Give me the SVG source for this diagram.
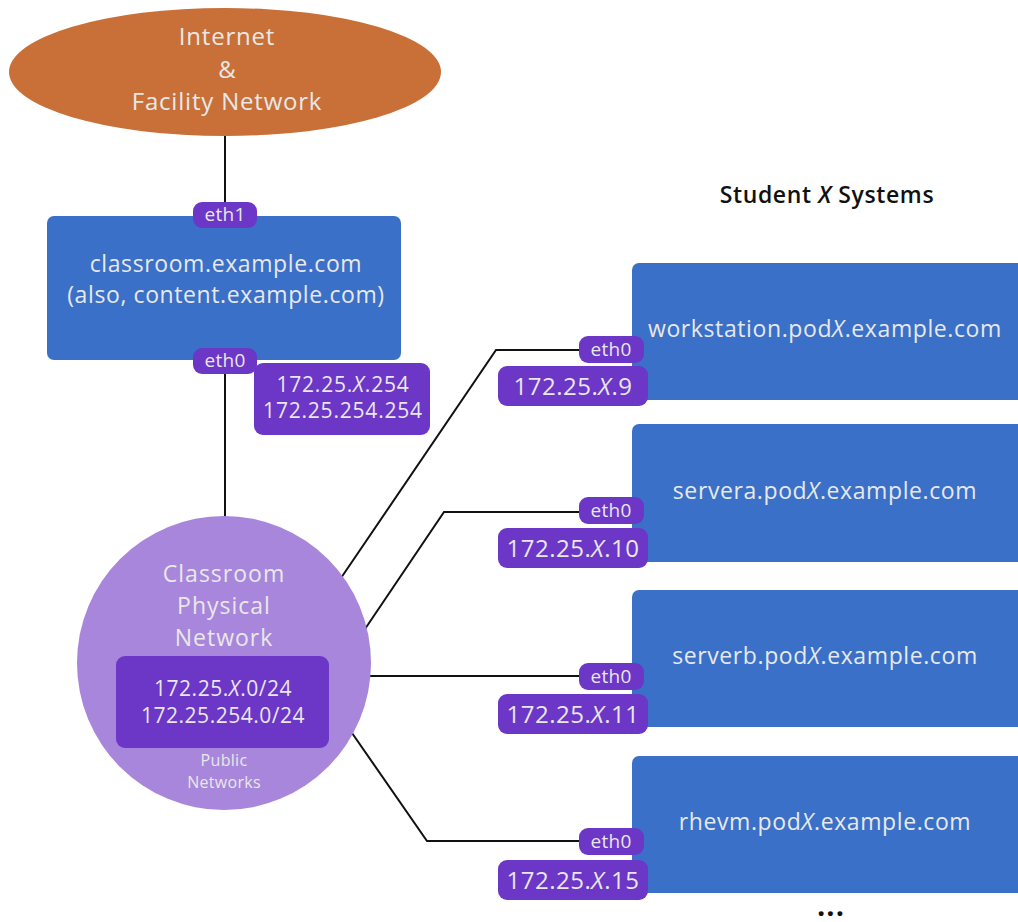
<svg xmlns="http://www.w3.org/2000/svg" width="1018" height="922" viewBox="0 0 1018 922">
  <style>
    text { font-family: "Open Sans", "Liberation Sans", sans-serif; fill: #E8E8E8; text-anchor: middle; }
    .host { fill: #3A70C8; }
    .pill { fill: #6C36C7; }
    .wire { fill: none; stroke: #111; stroke-width: 2; }
    .t22 { font-size: 23px; letter-spacing: 0.6px; }
    .eth { font-size: 19px; letter-spacing: 0.3px; }
    .ip { font-size: 24px; letter-spacing: 0.5px; }
    .it { font-style: italic; }
  </style>

  <!-- connectors -->
  <g id="connectors">
    <line class="wire" x1="225" y1="135" x2="225" y2="210"/>
    <line class="wire" x1="225" y1="370" x2="225" y2="520"/>
    <polyline class="wire" points="341,578 496,350 582,350"/>
    <polyline class="wire" points="365,629 444,512 582,512"/>
    <polyline class="wire" points="369,676 582,676"/>
    <polyline class="wire" points="352,733 427,841 582,841"/>
  </g>

  <!-- upstream network -->
  <g id="internet">
    <ellipse cx="225" cy="72" rx="216" ry="64" fill="#C87038"/>
    <text x="227" y="45" font-size="24" letter-spacing="0.8">Internet</text>
    <text x="227" y="78" font-size="24">&amp;</text>
    <text x="227" y="110" font-size="24" letter-spacing="0.8">Facility Network</text>
  </g>

  <!-- classroom server -->
  <g id="classroom">
    <rect class="host" x="47" y="216" width="354" height="144" rx="7"/>
    <text class="t22" x="226" y="272">classroom.example.com</text>
    <text class="t22" x="226" y="303">(also, content.example.com)</text>
    <rect class="pill" x="193" y="202" width="64" height="26" rx="9"/>
    <text class="eth" x="225" y="221">eth1</text>
    <rect class="pill" x="193" y="348" width="64" height="26" rx="9"/>
    <text class="eth" x="225" y="367">eth0</text>
    <rect class="pill" x="254" y="363" width="176" height="72" rx="9"/>
    <text x="343" y="392" font-size="21" letter-spacing="0.8">172.25.<tspan class="it">X</tspan>.254</text>
    <text x="343" y="418" font-size="21" letter-spacing="0.8">172.25.254.254</text>
  </g>

  <!-- classroom physical network -->
  <g id="physical-network">
    <circle cx="224" cy="663" r="147" fill="#A886DC"/>
    <text x="224" y="582" font-size="23" letter-spacing="1">Classroom</text>
    <text x="224" y="614" font-size="23" letter-spacing="1">Physical</text>
    <text x="224" y="646" font-size="23" letter-spacing="1">Network</text>
    <rect class="pill" x="116" y="656" width="213" height="92" rx="9"/>
    <text x="223" y="696" font-size="21" letter-spacing="0.5">172.25.<tspan class="it">X</tspan>.0/24</text>
    <text x="223" y="723" font-size="21" letter-spacing="0.5">172.25.254.0/24</text>
    <text x="224" y="766" font-size="16" letter-spacing="0.3">Public</text>
    <text x="224" y="788" font-size="16" letter-spacing="0.3">Networks</text>
  </g>

  <!-- student systems heading -->
  <text x="827" y="203" font-size="23" letter-spacing="0.6" style="fill:#111;font-weight:600">Student <tspan class="it">X</tspan> Systems</text>

  <g id="workstation">
    <rect class="host" x="632" y="263" width="400" height="137" rx="7"/>
    <text class="t22" x="825" y="337">workstation.pod<tspan class="it">X</tspan>.example.com</text>
    <rect class="pill" x="579" y="336" width="65" height="27" rx="9"/>
    <text class="eth" x="611" y="356">eth0</text>
    <rect class="pill" x="498" y="366" width="150" height="40" rx="9"/>
    <text class="ip" x="573" y="395">172.25.<tspan class="it">X</tspan>.9</text>
  </g>

  <g id="servera">
    <rect class="host" x="632" y="424" width="400" height="138" rx="7"/>
    <text class="t22" x="825" y="499">servera.pod<tspan class="it">X</tspan>.example.com</text>
    <rect class="pill" x="579" y="497" width="65" height="27" rx="9"/>
    <text class="eth" x="611" y="517">eth0</text>
    <rect class="pill" x="498" y="528" width="150" height="40" rx="9"/>
    <text class="ip" x="573" y="557">172.25.<tspan class="it">X</tspan>.10</text>
  </g>

  <g id="serverb">
    <rect class="host" x="632" y="590" width="400" height="137" rx="7"/>
    <text class="t22" x="825" y="664">serverb.pod<tspan class="it">X</tspan>.example.com</text>
    <rect class="pill" x="579" y="663" width="65" height="27" rx="9"/>
    <text class="eth" x="611" y="683">eth0</text>
    <rect class="pill" x="498" y="694" width="150" height="40" rx="9"/>
    <text class="ip" x="573" y="723">172.25.<tspan class="it">X</tspan>.11</text>
  </g>

  <g id="rhevm">
    <rect class="host" x="632" y="756" width="400" height="137" rx="7"/>
    <text class="t22" x="825" y="830">rhevm.pod<tspan class="it">X</tspan>.example.com</text>
    <rect class="pill" x="579" y="828" width="65" height="27" rx="9"/>
    <text class="eth" x="611" y="848">eth0</text>
    <rect class="pill" x="498" y="860" width="150" height="40" rx="9"/>
    <text class="ip" x="573" y="889">172.25.<tspan class="it">X</tspan>.15</text>
  </g>

  <text x="831" y="916" font-size="29" letter-spacing="1" style="fill:#111;font-weight:700">...</text>
</svg>
